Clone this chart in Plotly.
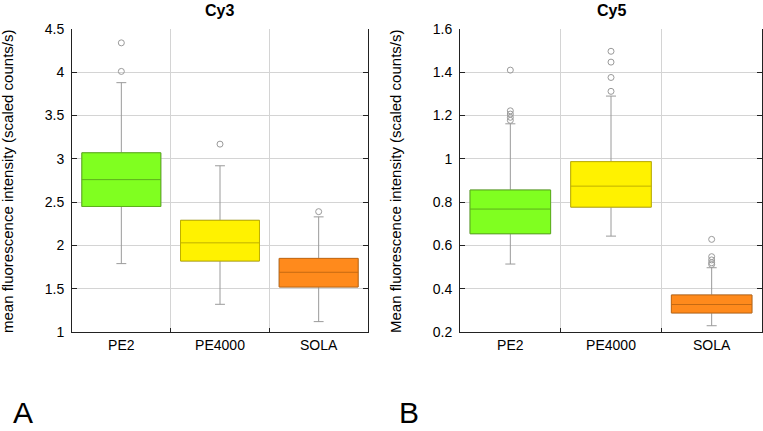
import plotly.graph_objects as go

# ---------------- data ----------------
categories = ["PE2", "PE4000", "SOLA"]

cy3_q1 = [2.45, 1.82, 1.52]
cy3_median = [2.76, 2.03, 1.69]
cy3_q3 = [3.07, 2.29, 1.85]
cy3_lower = [1.79, 1.32, 1.12]
cy3_upper = [3.88, 2.92, 2.33]
cy3_outlier_cats = ["PE2", "PE2", "PE4000", "SOLA"]
cy3_outlier_vals = [4.34, 4.01, 3.17, 2.39]

cy5_q1 = [0.654, 0.777, 0.288]
cy5_median = [0.768, 0.874, 0.327]
cy5_q3 = [0.856, 0.987, 0.371]
cy5_lower = [0.514, 0.643, 0.229]
cy5_upper = [1.162, 1.29, 0.497]
cy5_outlier_cats = ["PE2", "PE2", "PE2", "PE2", "PE2",
                    "PE4000", "PE4000", "PE4000", "PE4000",
                    "SOLA", "SOLA", "SOLA", "SOLA", "SOLA"]
cy5_outlier_vals = [1.41, 1.222, 1.207, 1.192, 1.178,
                    1.497, 1.447, 1.376, 1.312,
                    0.628, 0.548, 0.533, 0.52, 0.512]

panel_titles = ["Cy3", "Cy5"]
y_titles = ["mean fluorescence intensity (scaled counts/s)",
            "Mean fluorescence intensity (scaled counts/s)"]
panel_letters = ["A", "B"]

# ---------------- styles ----------------
fills = ["#80FF20", "#FFF200", "#FF8A1C"]
edges = ["#5CAF1C", "#BFB000", "#C66A12"]
whisker_color = "#9a9a9a"
grid_color = "#d4d4d4"
FONT = "Arial, Liberation Sans, sans-serif"

W, H = 763, 431
fig = go.Figure()


def add_panel(fig, xa, ya, q1, med, q3, lo, hi, ocats, ovals):
    for i, c in enumerate(categories):
        # whiskers + box (gray)
        fig.add_trace(go.Box(
            x=[c], q1=[q1[i]], median=[med[i]], q3=[q3[i]],
            lowerfence=[lo[i]], upperfence=[hi[i]],
            fillcolor=fills[i], line=dict(color=whisker_color, width=1),
            width=0.8, whiskerwidth=0.125, boxpoints=False,
            xaxis=xa, yaxis=ya, showlegend=False, hoverinfo="skip"))
        # colored box outline and median on top
        fig.add_trace(go.Box(
            x=[c], q1=[q1[i]], median=[med[i]], q3=[q3[i]],
            lowerfence=[q1[i]], upperfence=[q3[i]],
            fillcolor=fills[i], line=dict(color=edges[i], width=1),
            width=0.8, whiskerwidth=0, boxpoints=False,
            xaxis=xa, yaxis=ya, showlegend=False, hoverinfo="skip"))
    fig.add_trace(go.Scatter(
        x=ocats, y=ovals, mode="markers",
        marker=dict(symbol="circle-open", size=6,
                    color=whisker_color, line=dict(width=1, color=whisker_color)),
        xaxis=xa, yaxis=ya, showlegend=False, hoverinfo="skip"))


add_panel(fig, "x", "y", cy3_q1, cy3_median, cy3_q3, cy3_lower, cy3_upper,
          cy3_outlier_cats, cy3_outlier_vals)
add_panel(fig, "x2", "y2", cy5_q1, cy5_median, cy5_q3, cy5_lower, cy5_upper,
          cy5_outlier_cats, cy5_outlier_vals)

# plot area geometry (pixels)
left_x = (72, 368)
right_x = (460, 762)
top_y, bottom_y = 29, 332
ydom = [1 - bottom_y / H, 1 - top_y / H]

xcommon = dict(type="category", categoryorder="array", categoryarray=categories,
               range=[-0.5, 2.5], tickson="boundaries", ticks="inside", ticklen=4,
               tickcolor="#222", showline=True, linecolor="#222", linewidth=1,
               showgrid=True, gridcolor=grid_color, gridwidth=1,
               tickfont=dict(family=FONT, size=14, color="black"), fixedrange=True,
               zeroline=False, automargin=False)
ycommon = dict(ticks="inside", ticklen=5, tickcolor="#222", showline=True,
               linecolor="#222", linewidth=1, mirror="ticks",
               showgrid=True, gridcolor=grid_color, gridwidth=1, zeroline=False,
               tickfont=dict(family=FONT, size=14, color="black"),
               ticklabelstandoff=4, fixedrange=True, automargin=False)

fig.update_layout(
    width=W, height=H, autosize=False, margin=dict(l=0, r=0, t=0, b=0, pad=0),
    paper_bgcolor="white", plot_bgcolor="white", boxmode="overlay",
    xaxis=dict(domain=[left_x[0] / W, left_x[1] / W], anchor="y", **xcommon),
    yaxis=dict(domain=ydom, anchor="x", range=[1, 4.5], dtick=0.5, **ycommon),
    xaxis2=dict(domain=[right_x[0] / W, right_x[1] / W], anchor="y2", **xcommon),
    yaxis2=dict(domain=ydom, anchor="x2", range=[0.2, 1.6], dtick=0.2, **ycommon),
)

annos = []
centers = [(left_x[0] + left_x[1]) / 2, (right_x[0] + right_x[1]) / 2]
for i, t in enumerate(panel_titles):
    annos.append(dict(text="<b>%s</b>" % t, x=centers[i] / W, y=1 - 11 / H,
                      xref="paper", yref="paper", xanchor="center", yanchor="middle",
                      showarrow=False, font=dict(family=FONT, size=16, color="black")))
ytitle_x = [8, 396]
for i, t in enumerate(y_titles):
    annos.append(dict(text=t, x=ytitle_x[i] / W, y=1 - 182 / H, textangle=-90,
                      xref="paper", yref="paper", xanchor="center", yanchor="middle",
                      showarrow=False, font=dict(family=FONT, size=15, color="black")))
letter_x = [11, 397]
for i, t in enumerate(panel_letters):
    annos.append(dict(text=t, x=letter_x[i] / W, y=0, xref="paper", yref="paper",
                      xanchor="left", yanchor="bottom", showarrow=False,
                      font=dict(family=FONT, size=30, color="black")))
fig.update_layout(annotations=annos)

fig.write_html(
    "out.html",
    config={"responsive": False, "displayModeBar": False},
    post_script="document.body.style.margin='0';document.body.style.overflow='hidden';",
)
